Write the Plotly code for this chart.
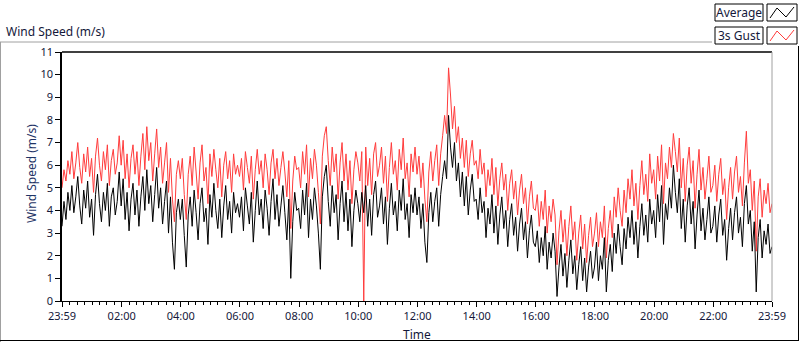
import pandas as pd
import plotly.graph_objects as go

# ---------------- data ----------------
start_time = "2015-01-01 23:59"
sample_minutes = 4

avg = [
    3.3, 4.4, 3.6, 4.8, 4.0, 5.1, 3.9, 4.6, 5.5, 4.2, 3.4, 4.9, 4.1, 5.3, 3.7, 4.5, 2.9, 4.7, 5.6, 4.3, 3.5, 4.8, 4.0, 5.2, 3.3, 4.6, 5.0, 3.8, 4.4, 5.7,
    4.2, 5.4, 3.6, 4.8, 3.1, 4.5, 5.2, 3.8, 4.9, 3.3, 4.6, 5.5, 4.0, 5.8, 4.3, 5.1, 3.5, 4.7, 5.9, 4.1, 5.0, 3.4, 4.4, 5.3, 3.0, 4.6, 2.6, 1.4, 3.9, 4.5,
    3.6, 4.5, 2.9, 1.5, 3.8, 4.6, 3.3, 4.9, 3.9, 2.7, 4.3, 5.0, 3.5, 4.1, 2.5, 4.7, 3.7, 5.2, 4.0, 3.2, 4.5, 2.8, 4.2, 5.1, 3.6, 4.4, 3.0, 4.8, 3.9, 4.3,
    3.7, 4.6, 3.1, 5.0, 4.2, 3.4, 4.8, 2.6, 4.0, 5.3, 3.8, 4.5, 3.2, 4.9, 4.1, 2.9, 4.4, 5.4, 3.6, 4.7, 3.3, 4.2, 5.1, 3.9, 2.7, 4.5, 1.0, 3.5, 4.8, 4.0,
    4.1, 3.2, 4.9, 3.8, 5.2, 2.8, 4.5, 3.6, 5.0, 4.2, 3.0, 1.4, 4.6, 5.5, 6.0, 4.4, 3.3, 5.1, 3.9, 4.7, 2.7, 4.3, 5.3, 3.5, 4.8, 3.1, 4.5, 2.4, 4.0, 4.9,
    4.3, 3.5, 4.8, 3.9, 5.1, 3.3, 4.5, 2.9, 4.7, 5.3, 3.7, 4.2, 5.0, 3.4, 4.6, 2.5, 4.1, 5.2, 3.8, 4.4, 3.1, 4.9, 4.0, 5.4, 3.6, 4.3, 2.8, 4.7, 3.9, 5.0,
    3.8, 4.6, 3.2, 4.3, 2.6, 1.7, 3.9, 4.8, 3.5, 4.4, 5.0, 3.3, 4.7, 5.5, 6.2, 5.4, 8.2, 6.8, 5.9, 7.0, 5.3, 6.1, 4.6, 5.7, 4.2, 5.5, 3.8, 4.9, 5.6, 4.4,
    4.5, 3.6, 5.0, 3.9, 4.4, 2.8, 4.1, 3.4, 4.7, 3.0, 4.2, 2.5, 3.8, 4.6, 3.2, 4.0, 2.4, 3.6, 4.3, 2.9, 3.7, 2.2, 3.4, 4.1, 2.7, 3.5, 1.9, 3.1, 3.8, 2.6,
    2.4, 3.1, 1.7, 2.8, 2.0, 3.3, 1.4, 2.6, 1.9, 3.0, 2.2, 0.2, 1.5, 2.5, 1.1, 2.1, 0.6, 1.8, 2.7, 1.2, 2.0, 0.5, 1.6, 2.4, 0.9, 1.9, 0.4, 1.5, 2.2, 1.0,
    1.5, 2.6, 0.9, 2.0, 1.4, 2.8, 0.4, 1.8, 2.5, 1.3, 3.0, 2.1, 3.4, 2.4, 1.6, 3.2, 2.3, 3.7, 2.8, 4.0, 2.5, 3.5, 1.9, 3.3, 4.3, 2.9, 3.8, 2.6, 4.5, 3.4,
    4.0, 2.8, 4.7, 3.5, 5.1, 2.5, 4.3, 3.6, 5.0, 4.1, 6.0, 4.8, 3.9, 5.4, 3.2, 4.5, 2.6, 4.2, 5.0, 3.4, 4.4, 2.3, 3.8, 4.9, 3.1, 4.1, 2.7, 3.6, 4.6, 3.0,
    3.3, 4.2, 2.6, 3.8, 4.5, 2.9, 3.6, 1.8, 3.2, 4.1, 2.7, 3.9, 4.6, 3.0, 3.7, 2.4, 4.3, 5.1, 3.4, 4.0, 2.2, 3.5, 0.4, 2.8, 3.6, 1.9, 3.1, 2.5, 3.4, 2.1, 2.4,
]

gust = [
    5.0, 5.8, 5.3, 6.2, 5.6, 6.6, 5.4, 6.1, 7.0, 5.9, 5.2, 6.5, 5.7, 6.8, 5.5, 6.3, 4.8, 6.4, 7.2, 6.0, 5.3, 6.6, 5.8, 6.9, 5.1, 6.2, 6.7, 5.6, 6.1, 7.3,
    6.0, 7.1, 5.4, 6.5, 5.0, 6.3, 6.9, 5.6, 6.6, 5.1, 6.4, 7.4, 5.8, 7.7, 6.2, 7.0, 5.3, 6.5, 7.6, 5.9, 6.8, 5.2, 6.1, 7.0, 4.8, 6.3, 4.5, 3.5, 5.6, 6.2,
    5.4, 6.3, 4.7, 3.6, 5.6, 6.4, 5.1, 6.8, 5.7, 4.5, 6.1, 6.9, 5.3, 5.9, 4.3, 6.5, 5.5, 6.7, 5.8, 5.0, 6.3, 4.6, 6.0, 6.6, 5.4, 6.2, 4.8, 6.5, 5.6, 6.0,
    5.5, 6.3, 4.9, 6.6, 5.9, 5.2, 6.4, 4.5, 5.8, 6.7, 5.6, 6.2, 5.0, 6.5, 5.8, 4.7, 6.1, 6.7, 5.4, 6.3, 5.1, 5.9, 6.6, 5.7, 4.6, 6.2, 3.2, 5.3, 6.4, 5.8,
    5.9, 5.0, 6.6, 5.6, 6.9, 4.6, 6.3, 5.4, 6.7, 6.0, 4.8, 3.4, 6.4, 7.3, 7.7, 6.2, 5.1, 6.8, 5.7, 6.5, 4.5, 6.1, 7.0, 5.3, 6.5, 4.9, 6.2, 4.3, 5.8, 6.6,
    6.1, 5.3, 6.6, 0.0, 6.8, 5.1, 6.3, 4.7, 6.5, 7.0, 5.5, 6.0, 6.8, 5.2, 6.4, 4.4, 5.9, 7.0, 5.6, 6.2, 4.9, 6.7, 5.8, 7.2, 5.4, 6.1, 4.6, 6.5, 5.7, 6.8,
    5.6, 6.4, 5.0, 6.1, 4.5, 3.5, 5.7, 6.6, 5.3, 6.2, 6.9, 5.1, 6.5, 7.3, 8.2, 7.4, 10.3, 9.1, 7.6, 8.6, 7.0, 7.7, 6.3, 7.2, 5.9, 7.1, 5.5, 6.5, 7.1, 6.0,
    6.2, 5.4, 6.7, 5.6, 6.1, 4.6, 5.8, 5.1, 6.3, 4.7, 5.9, 4.2, 5.4, 6.1, 4.9, 5.6, 4.0, 5.2, 5.8, 4.5, 5.3, 3.8, 4.9, 5.6, 4.3, 5.0, 3.4, 4.6, 5.3, 4.1,
    4.0, 4.7, 3.3, 4.4, 3.6, 4.9, 3.0, 4.2, 3.5, 4.5, 3.8, 1.6, 3.1, 4.0, 2.6, 3.6, 2.0, 3.3, 4.2, 2.7, 3.5, 1.8, 3.0, 3.8, 2.3, 3.4, 1.7, 2.9, 3.7, 2.4,
    3.0, 3.9, 2.4, 3.5, 2.8, 4.2, 1.9, 3.2, 4.0, 2.8, 4.6, 3.7, 5.0, 4.0, 3.3, 4.9, 3.9, 5.4, 4.5, 5.8, 4.2, 5.2, 3.6, 5.1, 6.2, 4.7, 5.6, 4.4, 6.5, 5.2,
    5.8, 4.5, 6.4, 5.3, 6.9, 4.3, 6.1, 5.4, 6.8, 5.9, 7.4, 6.6, 5.7, 7.2, 5.0, 6.3, 4.4, 6.0, 6.8, 5.2, 6.2, 4.1, 5.6, 6.7, 4.9, 5.9, 4.5, 5.4, 6.4, 4.8,
    5.1, 6.0, 4.4, 5.6, 6.3, 4.7, 5.4, 3.6, 5.0, 5.9, 4.5, 5.7, 6.4, 4.8, 5.5, 4.2, 6.1, 7.5, 5.2, 5.8, 4.0, 5.3, 2.2, 4.6, 5.4, 3.7, 4.9, 4.3, 5.2, 3.9, 4.3,
]

tick_times = [
    "2015-01-01 23:59", "2015-01-02 02:00", "2015-01-02 04:00", "2015-01-02 06:00",
    "2015-01-02 08:00", "2015-01-02 10:00", "2015-01-02 12:00", "2015-01-02 14:00",
    "2015-01-02 16:00", "2015-01-02 18:00", "2015-01-02 20:00", "2015-01-02 22:00",
    "2015-01-02 23:59",
]
tick_labels = ["23:59", "02:00", "04:00", "06:00", "08:00", "10:00", "12:00",
               "14:00", "16:00", "18:00", "20:00", "22:00", "23:59"]
y_ticks = [0, 1, 2, 3, 4, 5, 6, 7, 8, 9, 10, 11]

series_names = ["Average", "3s Gust"]

# ---------------- figure ----------------
times = pd.date_range(start_time, periods=len(avg), freq=f"{sample_minutes}min")

W, H = 800, 342
L, R, T, B = 62, 772, 52, 301
FONT = "Noto Sans"
TXT = "#14183a"
RED = "#ff3c3c"


def px(x):
    return (x - L) / (R - L)


def py(y):
    return (B - y) / (B - T)


fig = go.Figure()
fig.add_trace(go.Scatter(x=times, y=gust, mode="lines", name=series_names[1],
                         line=dict(color=RED, width=1, simplify=False), showlegend=False))
fig.add_trace(go.Scatter(x=times, y=avg, mode="lines", name=series_names[0],
                         line=dict(color="black", width=1, simplify=False), showlegend=False))

shapes = []
# outer frame
shapes.append(dict(type="line", xref="paper", yref="paper", x0=px(0), x1=px(712), y0=py(42), y1=py(42),
                   line=dict(color="#a0a0a0", width=1)))
shapes.append(dict(type="line", xref="paper", yref="paper", x0=px(0.5), x1=px(0.5), y0=py(42), y1=py(342),
                   line=dict(color="#a0a0a0", width=1)))
shapes.append(dict(type="line", xref="paper", yref="paper", x0=px(0), x1=px(799), y0=py(340.5), y1=py(340.5),
                   line=dict(color="black", width=1)))
shapes.append(dict(type="line", xref="paper", yref="paper", x0=px(798.5), x1=px(798.5), y0=py(46), y1=py(341),
                   line=dict(color="black", width=1)))
# plot area border: top black, right gray
shapes.append(dict(type="line", xref="paper", yref="paper", x0=0, x1=1, y0=1, y1=1,
                   line=dict(color="black", width=1.5)))
shapes.append(dict(type="line", xref="paper", yref="paper", x0=1, x1=1, y0=0, y1=1,
                   line=dict(color="#a0a0a0", width=1)))

annotations = []
# legend
rows = [(4, 21, series_names[0], "black"), (27, 44, series_names[1], RED)]
for (y0, y1, name, col) in rows:
    shapes.append(dict(type="rect", xref="paper", yref="paper", x0=px(715), x1=px(763), y0=py(y1), y1=py(y0),
                       line=dict(color="black", width=1), fillcolor="white"))
    shapes.append(dict(type="rect", xref="paper", yref="paper", x0=px(767), x1=px(797), y0=py(y1), y1=py(y0),
                       line=dict(color="black", width=1), fillcolor="white"))
    pts = [(770, y1 - 3), (777, y0 + 4), (786, y1 - 4), (794, y0 + 3)]
    path = "M " + " L ".join(f"{px(a)},{py(b)}" for a, b in pts)
    shapes.append(dict(type="path", xref="paper", yref="paper", path=path, line=dict(color=col, width=1)))
    annotations.append(dict(text=name, xref="paper", yref="paper", x=px(739), y=py((y0 + y1) / 2),
                            xanchor="center", yanchor="middle", showarrow=False,
                            font=dict(family=FONT, size=12, color=TXT)))

annotations.append(dict(text="Wind Speed (m/s)", xref="paper", yref="paper", x=px(4), y=py(32),
                        xanchor="left", yanchor="middle", showarrow=False,
                        font=dict(family=FONT, size=12, color=TXT)))
annotations.append(dict(text="Wind Speed (m/s)", xref="paper", yref="paper", x=px(31), y=py(174),
                        xanchor="center", yanchor="middle", showarrow=False, textangle=-90,
                        font=dict(family=FONT, size=12, color="#1f3466")))
annotations.append(dict(text="Time", xref="paper", yref="paper", x=px(417), y=py(334),
                        xanchor="center", yanchor="middle", showarrow=False,
                        font=dict(family=FONT, size=12, color=TXT)))

fig.update_layout(
    width=W, height=H,
    margin=dict(l=L, r=W - R, t=T, b=H - B, pad=0),
    paper_bgcolor="white", plot_bgcolor="white",
    font=dict(family=FONT, size=11, color=TXT),
    xaxis=dict(type="date", range=[times[0], times[-1]],
               tickmode="array", tickvals=tick_times, ticktext=tick_labels,
               ticks="outside", ticklen=5, tickcolor="black", tickwidth=1,
               showline=True, linecolor="black", linewidth=1,
               showgrid=False, zeroline=False,
               tickfont=dict(family=FONT, size=11, color=TXT),
               minor=dict(ticks="outside", ticklen=3, tickcolor="black",
                          dtick=15 * 60 * 1000, tick0="2015-01-02 00:00", showgrid=False)),
    yaxis=dict(range=[0, 11], tickmode="array", tickvals=y_ticks,
               ticks="outside", ticklen=5, tickcolor="black",
               showline=True, linecolor="black", linewidth=1.5,
               showgrid=False, zeroline=False,
               tickfont=dict(family=FONT, size=11, color=TXT)),
    shapes=shapes, annotations=annotations, showlegend=False,
)

fig.write_html("out.html", config={"displayModeBar": False},
               post_script="document.body.style.margin='0';document.body.style.overflow='hidden';")
